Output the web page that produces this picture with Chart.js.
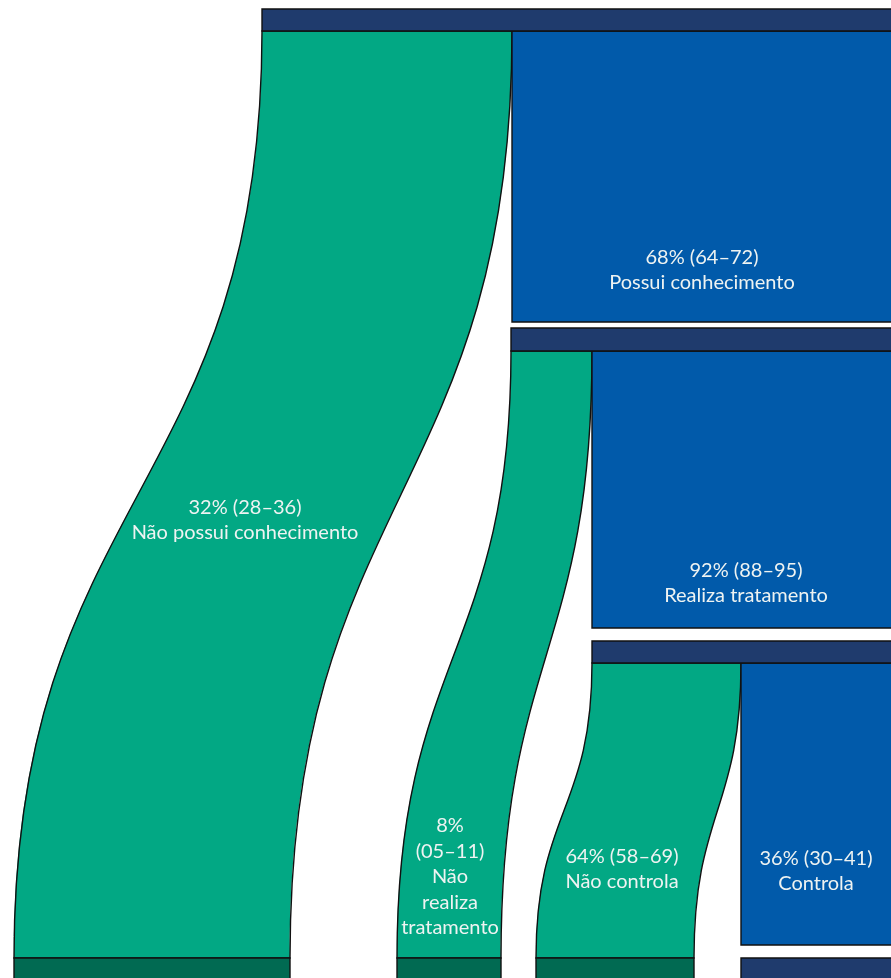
<!DOCTYPE html>
<html>
<head>
<meta charset="utf-8">
<script src="https://cdn.jsdelivr.net/npm/chart.js@4"></script>
<style>
  html, body { margin: 0; padding: 0; background: #fff; }
  canvas { display: block; }
</style>
</head>
<body>
<canvas id="cascade" width="891" height="978"></canvas>
<script>
// data
const stages = ["Conhecimento", "Tratamento", "Controle"];
const negLabels = ["Não possui conhecimento", "Não realiza tratamento", "Não controla"];
const negPct = [32, 8, 64];
const negCI = ["28–36", "05–11", "58–69"];
const posLabels = ["Possui conhecimento", "Realiza tratamento", "Controla"];
const posPct = [68, 92, 36];
const posCI = ["64–72", "88–95", "30–41"];

// layout, in axis units (x: 0-891, y: 0-978 top-down)
const headTop = [9, 328, 641];
const headBot = [31, 351, 663];
const splitX = [512, 592, 741];     // where the "no" flow meets the "yes" box
const headLeft = [262, 511, 592];
const boxBottom = [322, 628, 945];
const rightEdge = 891;
const baseTop = 958, baseBot = 978;
const flowBotLeft = [14, 397, 536];
const flowBotRight = [290, 501, 694];
const negLabelPos = [[245, 520], [450, 877], [622, 869]];
const posLabelPos = [[702, 270], [746, 583], [816, 871]];
const negWrap = [300, 90, 150];
const posWrap = [360, 290, 145];

const NAVY = "#1f3b6d", GREEN = "#02a884", DKGREEN = "#016a52", BLUE = "#015aaa";
const EDGE = "#111";

const cascadePlugin = {
  id: "cascade",
  afterDatasetsDraw(chart) {
    const { ctx, scales: { x, y } } = chart;
    const px = v => x.getPixelForValue(v);
    const py = v => y.getPixelForValue(v);

    ctx.save();
    ctx.lineWidth = 1.4;
    ctx.strokeStyle = EDGE;
    ctx.lineJoin = "miter";

    const rect = (x0, y0, x1, y1, fill) => {
      ctx.beginPath();
      ctx.rect(px(x0), py(y0), px(x1) - px(x0), py(y1) - py(y0));
      ctx.fillStyle = fill;
      ctx.fill();
      ctx.stroke();
    };

    stages.forEach((s, i) => {
      // curved "no" flow
      const t = headBot[i], b = baseTop;
      const m = (py(t) + py(b)) / 2;
      ctx.beginPath();
      ctx.moveTo(px(headLeft[i]), py(t));
      ctx.lineTo(px(splitX[i]), py(t));
      ctx.bezierCurveTo(px(splitX[i]), m, px(flowBotRight[i]), m, px(flowBotRight[i]), py(b));
      ctx.lineTo(px(flowBotLeft[i]), py(b));
      ctx.bezierCurveTo(px(flowBotLeft[i]), m, px(headLeft[i]), m, px(headLeft[i]), py(t));
      ctx.closePath();
      ctx.fillStyle = GREEN;
      ctx.fill();
      ctx.stroke();

      // base of the flow
      rect(flowBotLeft[i], baseTop, flowBotRight[i], baseBot + 2, DKGREEN);
      // "yes" box
      rect(splitX[i], headBot[i], rightEdge + 2, boxBottom[i], BLUE);
      // stage header
      rect(headLeft[i], headTop[i], rightEdge + 2, headBot[i], NAVY);
    });
    // final header below "Controla"
    rect(splitX[2], baseTop, rightEdge + 2, baseBot + 2, NAVY);

    // labels
    ctx.font = '20px Lato, "Open Sans", sans-serif';
    ctx.fillStyle = "#eef3f2";
    ctx.textAlign = "center";
    ctx.textBaseline = "middle";
    const wrap = (text, maxW) => {
      const words = text.split(" ");
      const lines = [];
      let cur = "";
      words.forEach(w => {
        const test = cur ? cur + " " + w : w;
        if (cur && ctx.measureText(test).width > maxW) { lines.push(cur); cur = w; }
        else cur = test;
      });
      if (cur) lines.push(cur);
      return lines;
    };
    const label = (pos, pct, ci, name, maxW) => {
      const lines = [...wrap(pct + "% (" + ci + ")", maxW), ...wrap(name, maxW)];
      const lh = 25.5;
      const cy = py(pos[1]) - (lines.length - 1) * lh / 2;
      lines.forEach((l, k) => ctx.fillText(l, px(pos[0]), cy + k * lh));
    };
    stages.forEach((s, i) => {
      label(negLabelPos[i], negPct[i], negCI[i], negLabels[i], negWrap[i]);
      label(posLabelPos[i], posPct[i], posCI[i], posLabels[i], posWrap[i]);
    });
    ctx.restore();
  }
};

new Chart(document.getElementById("cascade"), {
  type: "scatter",
  data: {
    datasets: [{
      label: "Cascata",
      data: negLabelPos.concat(posLabelPos).map(p => ({ x: p[0], y: p[1] })),
      pointRadius: 0
    }]
  },
  options: {
    responsive: false,
    devicePixelRatio: 1,
    animation: false,
    layout: { padding: 0 },
    plugins: { legend: { display: false }, tooltip: { enabled: false } },
    scales: {
      x: { type: "linear", min: 0, max: 891, display: false },
      y: { type: "linear", min: 0, max: 978, reverse: true, display: false }
    }
  },
  plugins: [cascadePlugin]
});
</script>
</body>
</html>
